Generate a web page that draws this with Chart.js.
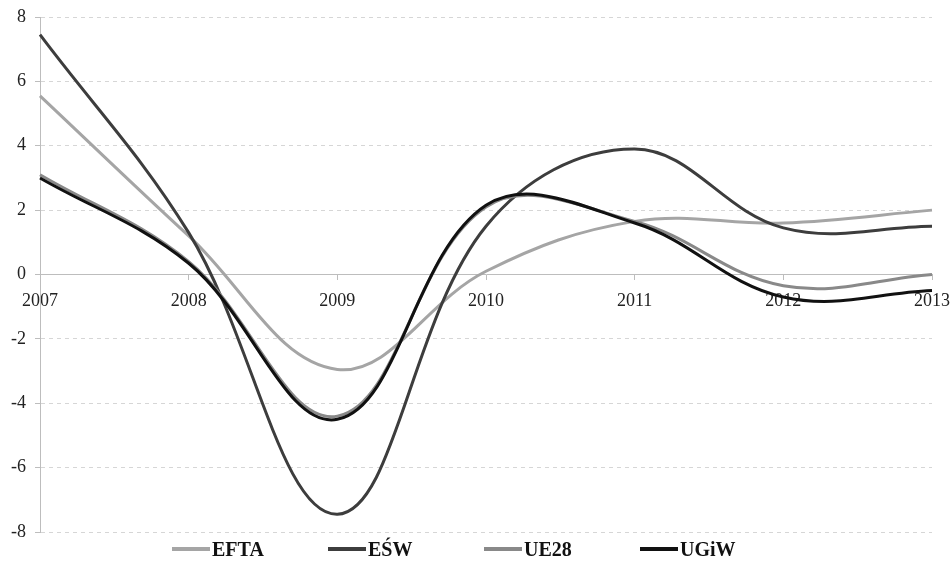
<!DOCTYPE html>
<html lang="pl">
<head>
    <meta charset="UTF-8">
    <title>EFTA, EŚW, UE28, UGiW</title>
    <script src="https://cdn.jsdelivr.net/npm/chart.js"></script>
    <style>
        html, body { margin: 0; padding: 0; background: #fff; }
        #wrap { position: relative; width: 952px; height: 580px; }
        #legend {
            position: absolute; left: 172px; top: 537px;
            display: flex; font-family: "Liberation Serif", "Times New Roman", serif;
            font-weight: bold; font-size: 20px; color: #111;
        }
        .item { display: flex; align-items: center; width: 156px; height: 24px; }
        .swatch { width: 38px; height: 4px; margin-right: 2px; }
    </style>
</head>
<body>
    <div id="wrap">
        <canvas id="myChart"></canvas>
        <div id="legend"></div>
    </div>

    <script>
        // data
        const years = ['2007', '2008', '2009', '2010', '2011', '2012', '2013'];
        const efta = [5.55, 1.2, -2.95, 0.1, 1.65, 1.6, 2.0];
        const esw = [7.45, 1.3, -7.45, 1.5, 3.9, 1.45, 1.5];
        const ue28 = [3.1, 0.4, -4.4, 2.1, 1.65, -0.35, 0.0];
        const ugiw = [3.0, 0.35, -4.5, 2.15, 1.6, -0.7, -0.5];

        const serif = '"Liberation Serif", "Times New Roman", serif';

        function line(label, data, color, order) {
            return {
                label: label,
                data: data,
                borderColor: color,
                backgroundColor: color,
                borderWidth: 3,
                pointRadius: 0,
                tension: 0.38,
                fill: false,
                order: order
            };
        }

        const ctx = document.getElementById('myChart').getContext('2d');
        const chart = new Chart(ctx, {
            type: 'line',
            data: {
                labels: years,
                datasets: [
                    line('EFTA', efta, '#a5a5a5', 4),
                    line('EŚW', esw, '#3d3d3d', 3),
                    line('UE28', ue28, '#898989', 2),
                    line('UGiW', ugiw, '#111111', 1)
                ]
            },
            options: {
                responsive: true,
                maintainAspectRatio: false,
                animation: false,
                layout: { padding: { top: 17, right: 20, left: 0, bottom: 48 } },
                plugins: {
                    tooltip: { enabled: false },
                    legend: { display: false }
                },
                scales: {
                    x: {
                        position: { y: 0 },
                        offset: false,
                        afterFit: (scale) => { scale.paddingLeft = 0; scale.paddingRight = 0; },
                        grid: {
                            drawOnChartArea: false,
                            drawTicks: true,
                            tickLength: 5,
                            tickColor: '#bdbdbd'
                        },
                        border: { color: '#bdbdbd', width: 1 },
                        ticks: {
                            color: '#222',
                            padding: 11,
                            maxRotation: 0,
                            font: { family: serif, size: 18 }
                        }
                    },
                    y: {
                        min: -8,
                        max: 8,
                        afterFit: (scale) => {
                            scale.width = 40;
                            scale.paddingTop = 0;
                            scale.paddingBottom = 0;
                        },
                        grid: {
                            color: '#d6d6d6',
                            tickColor: '#bdbdbd',
                            tickLength: 5
                        },
                        border: { color: '#bdbdbd', width: 1, dash: [4, 4] },
                        ticks: {
                            stepSize: 2,
                            color: '#222',
                            padding: 9,
                            font: { family: serif, size: 18 }
                        }
                    }
                }
            }
        });

        // legend built from the chart's datasets
        const legendEl = document.getElementById('legend');
        chart.data.datasets.forEach(ds => {
            const item = document.createElement('div');
            item.className = 'item';
            const sw = document.createElement('span');
            sw.className = 'swatch';
            sw.style.background = ds.borderColor;
            const txt = document.createElement('span');
            txt.textContent = ds.label;
            item.appendChild(sw);
            item.appendChild(txt);
            legendEl.appendChild(item);
        });
    </script>
</body>
</html>
